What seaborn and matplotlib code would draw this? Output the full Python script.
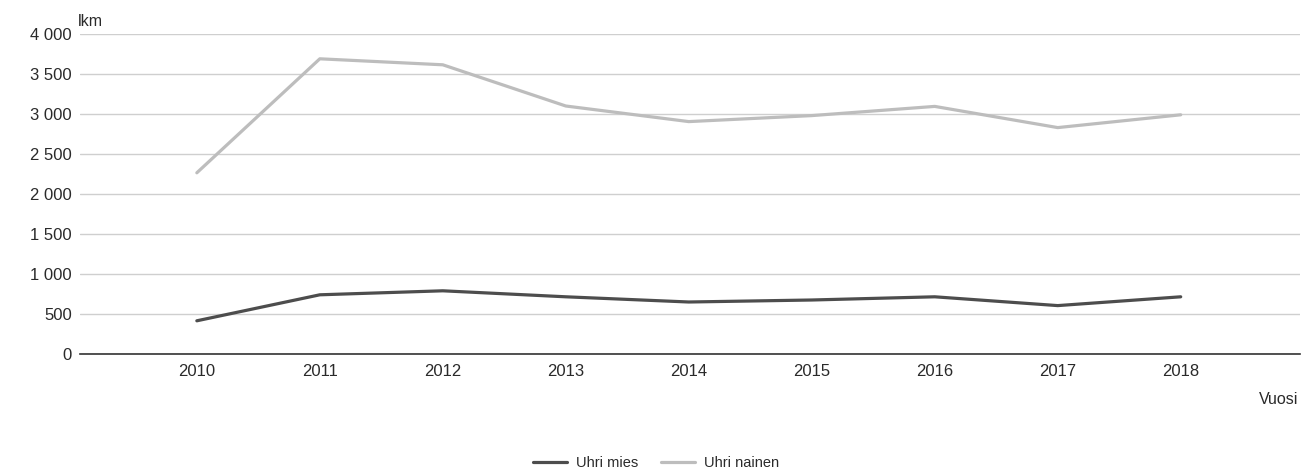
import matplotlib
matplotlib.use("Agg")
import matplotlib.pyplot as plt
import matplotlib.ticker as mticker
from matplotlib.lines import Line2D
import seaborn as sns
import pandas as pd

years = ["2010", "2011", "2012", "2013", "2014", "2015", "2016", "2017", "2018"]
uhri_mies = [415, 740, 790, 715, 650, 675, 715, 605, 715]
uhri_nainen = [2265, 3690, 3615, 3100, 2905, 2980, 3095, 2830, 2990]
series_names = ["Uhri mies", "Uhri nainen"]
y_ticks = [0, 500, 1000, 1500, 2000, 2500, 3000, 3500, 4000]

df = pd.DataFrame({
    "Vuosi": years * 2,
    "x": list(range(len(years))) * 2,
    "lkm": uhri_mies + uhri_nainen,
    "sarja": [series_names[0]] * len(years) + [series_names[1]] * len(years),
})

sns.set_theme(style="white")
plt.rcParams["font.family"] = ["Liberation Sans", "DejaVu Sans"]

fig = plt.figure(figsize=(13.07, 4.70), dpi=100)
ax = fig.add_axes([80 / 1307, (470 - 354) / 470, (1300 - 80) / 1307, 320 / 470])

palette = {series_names[0]: "#4d4d4d", series_names[1]: "#bdbdbd"}
sns.lineplot(data=df, x="x", y="lkm", hue="sarja", palette=palette,
             linewidth=2.3, ax=ax, legend=False)

ax.set_xlim(-0.95, 8.97)
ax.set_ylim(0, 4000)
ax.set_yticks(y_ticks)
ax.yaxis.set_major_formatter(mticker.FuncFormatter(lambda v, p: f"{int(v):,}".replace(",", " ")))
ax.set_xticks(range(len(years)))
ax.set_xticklabels(years)
ax.tick_params(axis="both", labelsize=12, colors="#2a2a2a", length=0)
ax.tick_params(axis="x", pad=7)
ax.tick_params(axis="y", pad=6)
ax.grid(axis="y", color="#cfcfcf", linewidth=1)
ax.set_axisbelow(True)
for s in ["top", "right", "left"]:
    ax.spines[s].set_visible(False)
ax.spines["bottom"].set_color("#333333")
ax.spines["bottom"].set_linewidth(1.2)
ax.set_xlabel("")
ax.set_ylabel("")

fig.text(78 / 1307, 1 - 22 / 470, "lkm", fontsize=11.5, color="#2a2a2a", va="center", ha="left")
fig.text(1298 / 1307, 1 - 399 / 470, "Vuosi", fontsize=11.5, color="#2a2a2a", va="center", ha="right")

handles = [Line2D([0], [0], color=palette[n], linewidth=2.3) for n in series_names]
fig.legend(handles, series_names, loc="center", bbox_to_anchor=(656 / 1307, 1 - 463 / 470),
           ncol=2, frameon=False, fontsize=10.5, handlelength=2.3, columnspacing=1.6,
           handletextpad=0.6, labelcolor="#2a2a2a")

fig.savefig("out.png", dpi=100, facecolor="white")
